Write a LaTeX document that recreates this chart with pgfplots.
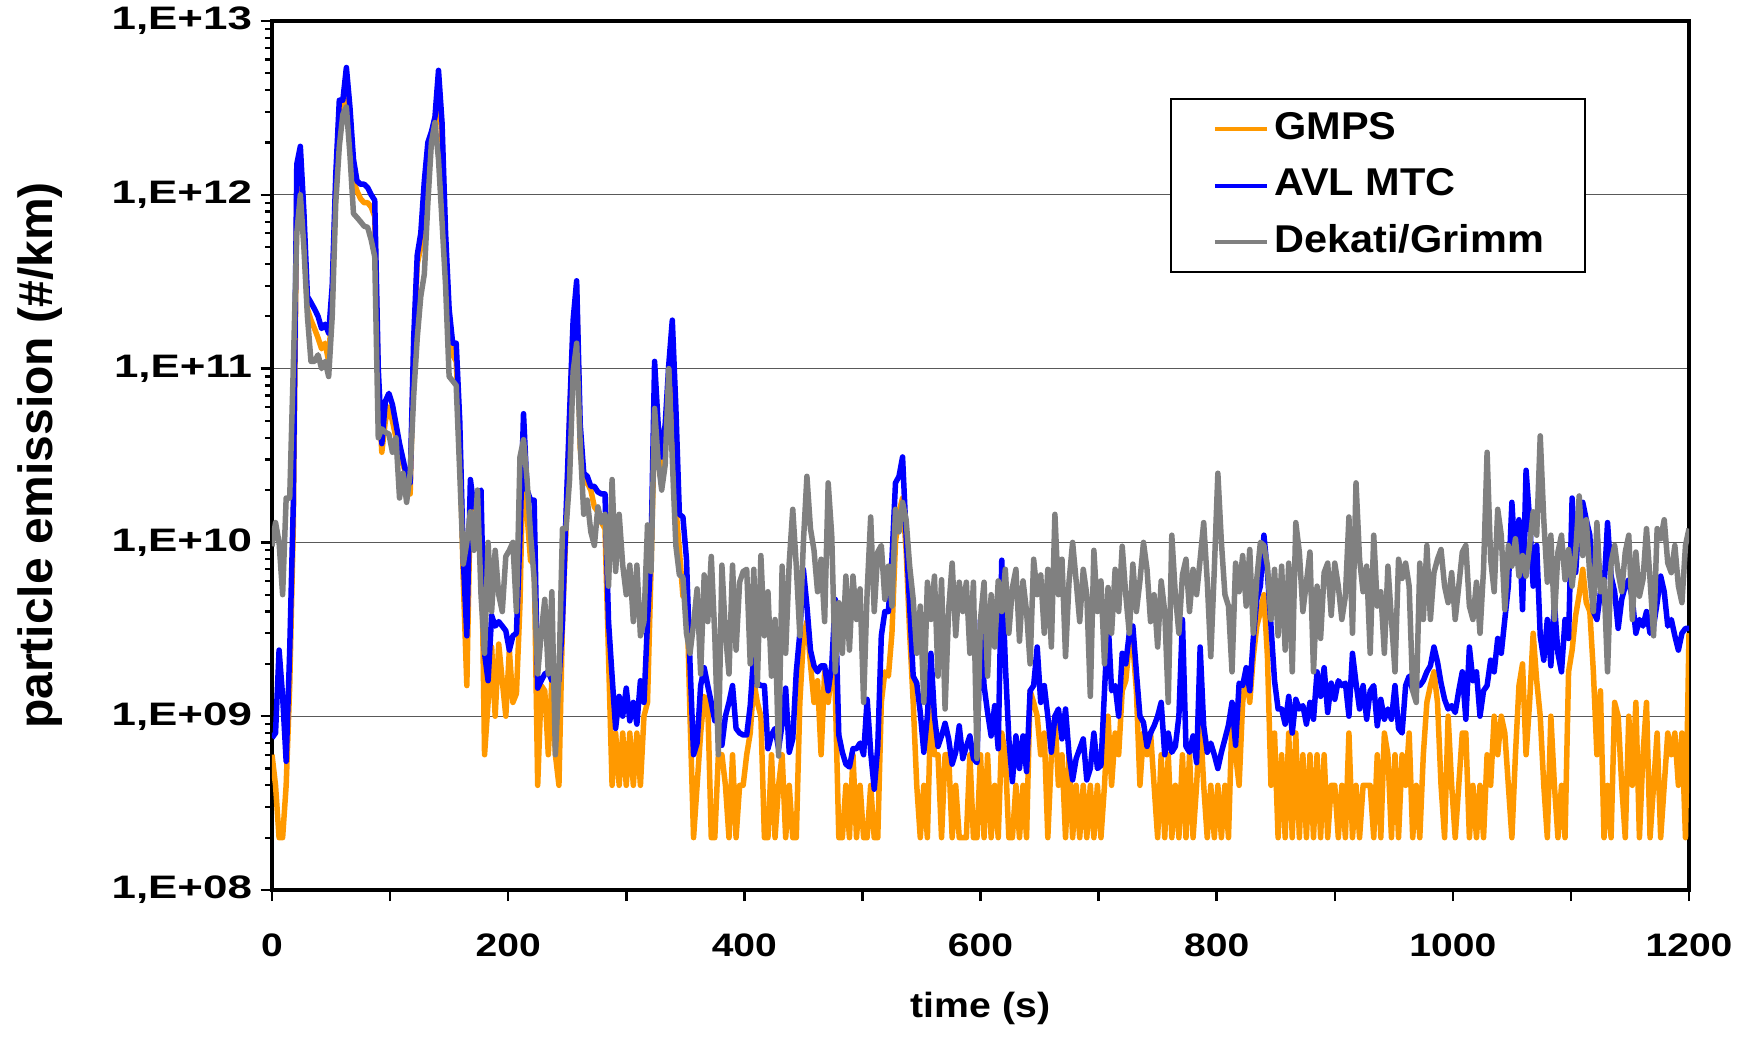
\documentclass[border=0pt]{standalone}
\usepackage{fontspec}
\setmainfont{Liberation Sans}
\newfontfamily\ytf{Liberation Sans}[FakeStretch=1.35]
\newfontfamily\xtf{Liberation Sans}[FakeStretch=1.2]
\newfontfamily\lgf{Liberation Sans}[FakeStretch=1.07]
\newfontfamily\xlf{Liberation Sans}[FakeStretch=1.12]
\usepackage{pgfplots}
\usepackage{pgfplotstable}
\pgfplotsset{compat=1.18}
\definecolor{gmps}{RGB}{255,153,0}
\definecolor{avl}{RGB}{0,0,255}
\definecolor{dek}{RGB}{128,128,128}
\pgfplotstableread{
t g a d
0 6e8 7.5e8 9.5e9
3 4e8 8e8 1.3e10
6 2e8 2.4e9 1e10
9 2e8 1.3e9 5e9
12 4e8 5.5e8 1.8e10
15 1.5e9 2.4e9 1.8e10
18 1.2e10 1.6e10 1e11
21 1e12 1.5e12 6e11
24 1.3e12 1.9e12 1e12
27 6e11 8e11 5e11
30 2.2e11 2.6e11 2e11
33 1.9e11 2.4e11 1.1e11
36 1.7e11 2.2e11 1.1e11
39 1.5e11 2e11 1.2e11
42 1.3e11 1.7e11 1e11
45 1.4e11 1.8e11 1.1e11
48 1.1e11 1.6e11 9e10
51 2.5e11 3e11 2e11
54 1.1e12 1.3e12 9e11
57 3e12 3.5e12 1.9e12
60 3.2e12 3.5e12 2.9e12
63 4.5e12 5.4e12 3.2e12
66 2.8e12 3.2e12 1.7e12
69 1.2e12 1.6e12 7.8e11
72 1.05e12 1.2e12 7.4e11
75 9.5e11 1.15e12 7e11
78 9e11 1.15e12 6.6e11
81 9e11 1.1e12 6.5e11
84 8.5e11 1e12 5.5e11
87 7.5e11 9.3e11 4.4e11
90 8e10 1e11 4e10
93 3.3e10 3.7e10 4.5e10
96 5e10 6.5e10 4.3e10
99 6e10 7.2e10 4.2e10
102 5e10 6.2e10 3.3e10
105 4e10 4.8e10 4e10
108 3e10 3.7e10 1.8e10
111 2.8e10 3e10 2.5e10
114 2.4e10 2.4e10 1.7e10
117 1.9e10 2.2e10 2.5e10
120 1.2e11 1.5e11 7e10
123 4e11 4.5e11 1.5e11
126 5e11 6e11 2.6e11
129 1e12 1.2e12 3.5e11
132 1.7e12 2e12 9e11
135 2.1e12 2.3e12 2e12
138 2.5e12 2.8e12 2.6e12
141 4.5e12 5.2e12 1.6e12
144 2e12 2.6e12 7e11
147 5e11 6e11 3e11
150 1.8e11 2.2e11 9e10
153 1.2e11 1.4e11 8.5e10
156 1.1e11 1.4e11 8e10
159 4e10 5e10 2.5e10
162 6e9 8e9 7.5e9
165 1.5e9 2.9e9 1e10
168 1.8e10 2.3e10 1.5e10
171 1.2e10 1.6e10 9e9
174 1.6e10 1.9e10 2e10
177 1.6e10 2e10 5e9
180 6e8 2.3e9 2.3e9
183 1.2e9 1.6e9 1e10
186 2.5e9 3.8e9 4e9
189 1e9 3.3e9 9e9
192 2.6e9 3.5e9 5e9
195 1.6e9 3.3e9 4e9
198 1e9 3.1e9 8.3e9
201 2.4e9 2.4e9 9e9
204 1.2e9 2.9e9 1e10
207 1.35e9 3e9 4e9
210 4.4e9 1.1e10 3.1e10
213 4e10 5.5e10 3.9e10
216 1.45e10 2e10 2.3e10
219 7.8e9 1.75e10 1.1e10
222 8e9 1.75e10 6.2e9
225 4e8 1.45e9 1.75e9
228 1.5e9 1.6e9 3e9
231 1.4e9 1.75e9 4.7e9
234 6e8 1.8e9 1.75e9
237 1.6e9 1.6e9 5.2e9
240 6e8 1.6e9 6e8
243 4e8 1.6e9 1.7e9
246 3.5e9 3.5e9 1.2e10
249 1.2e10 1.45e10 1.2e10
252 5e10 5.5e10 2.3e10
255 1.6e11 1.9e11 9.6e10
258 2.8e11 3.2e11 1.4e11
261 3.5e10 4.8e10 3.7e10
264 2.2e10 2.5e10 1.45e10
267 2.2e10 2.4e10 1.75e10
270 2e10 2.1e10 1.15e10
273 1.6e10 2.1e10 9.6e9
276 1.5e10 1.95e10 1.6e10
279 1.3e10 1.9e10 1.3e10
282 1.2e10 1.9e10 1.45e10
285 2.2e9 3.5e9 5.6e9
288 4e8 1.7e9 2.3e10
291 8e8 8.5e8 6.8e9
294 4e8 1.3e9 1.45e10
297 8e8 1e9 7.4e9
300 4e8 1.45e9 5e9
303 8e8 9.4e8 7.4e9
306 4e8 1.2e9 3.5e9
309 8e8 9e8 7.4e9
312 4e8 1.6e9 2.9e9
315 1e9 1.2e9 3.5e9
318 1.2e9 3.5e9 1.26e10
321 7e9 9e9 6.8e9
324 5e10 1.1e11 5.9e10
327 3.7e10 4.8e10 2.95e10
330 2.5e10 3.1e10 2e10
333 3.5e10 4.8e10 2.8e10
336 8e10 1.05e11 1e11
339 1.2e11 1.9e11 3e10
342 1.6e10 6e10 9.6e9
345 9e9 1.45e10 6.5e9
348 4.9e9 1.4e10 6.3e9
351 6e9 8e9 3e9
354 1e9 2e9 2.3e9
357 2e8 6e8 3.4e9
360 4e8 7e8 5.4e9
363 8e8 1.5e9 1.75e9
366 1.3e9 1.9e9 6.5e9
369 1.2e9 1.5e9 3.5e9
372 2e8 1.2e9 8.3e9
375 2e8 9.4e8 2.9e9
378 6e8 9.4e8 6e8
381 6e8 6.8e8 7.4e9
384 4e8 1e9 3e9
387 2e8 1.2e9 1.75e9
390 6e8 1.5e9 7.4e9
393 2e8 8.5e8 2.4e9
396 4e8 8e8 5.9e9
399 4e8 7.8e8 6.8e9
402 6e8 7.8e8 7e9
405 8e8 1.15e9 2e9
408 1.6e9 2.3e9 7e9
411 1.2e9 1.55e9 1.5e9
414 1e9 1.5e9 8.4e9
417 2e8 1.5e9 2.9e9
420 2e8 6.5e8 5.2e9
423 6e8 7.8e8 1.7e9
426 2e8 8.5e8 3.6e9
429 4e8 6.5e8 5.9e8
432 6e8 9e8 7.3e9
435 2e8 1.45e9 2.3e9
438 4e8 6.2e8 7.6e9
441 2e8 7.4e8 1.55e10
444 2e8 1.8e9 7.3e9
447 1.2e9 3e9 2.9e9
450 2.8e9 7e9 1e10
453 3.5e9 4.3e9 2.4e10
456 2e9 2.4e9 1.2e10
459 1.2e9 1.95e9 9e9
462 1.6e9 1.8e9 5.2e9
465 6e8 1.95e9 8e9
468 1.8e9 1.95e9 3.5e9
471 1.2e9 1.4e9 2.2e10
474 1.8e9 1.95e9 1.1e10
477 1.4e9 4.7e9 1.8e9
480 2e8 7.8e8 4.5e9
483 2e8 6.2e8 2.3e9
486 4e8 5.3e8 6.4e9
489 2e8 5.1e8 2.4e9
492 6e8 6.5e8 6.4e9
495 2e8 6.5e8 3.6e9
498 4e8 7e8 5.4e9
501 2e8 6e8 1.2e9
504 2e8 1.25e9 5.2e9
507 4e8 6.2e8 1.4e10
510 2e8 3.8e8 4e9
513 2e8 6.7e8 8.8e9
516 1.2e9 2.9e9 9.6e9
519 1.8e9 4e9 4.7e9
522 1.7e9 4e9 7.3e9
525 3e9 8e9 4.3e9
528 1e10 2.2e10 1.55e10
531 1.5e10 2.4e10 1.15e10
534 1.8e10 3.1e10 1.7e10
537 9e9 1.1e10 1.35e10
540 3e9 4.3e9 7.3e9
543 1.2e9 1.7e9 4.7e9
546 4e8 1.55e9 2.3e9
549 2e8 1.05e9 4.3e9
552 4e8 6.2e8 1.2e9
555 2e8 1e9 5.9e9
558 1.2e9 2.3e9 3.6e9
561 6e8 1e9 6.4e9
564 6e8 6.7e8 1.7e9
567 2e8 7.7e8 6.1e9
570 6e8 9.1e8 1.1e9
573 6e8 7.4e8 4.1e9
576 2e8 5.3e8 7.6e9
579 4e8 6.2e8 2.9e9
582 2e8 8.8e8 5.9e9
585 2e8 5.7e8 4e9
588 2e8 6.7e8 5.9e9
591 6e8 7.7e8 2.3e9
594 2e8 5.7e8 5.9e9
597 2e8 5.4e8 5.7e8
600 6e8 3.6e9 3.6e9
603 2e8 1.5e9 5.9e9
606 6e8 1.05e9 1.7e9
609 2e8 7.7e8 5e9
612 4e8 1.15e9 2.5e9
615 2e8 6.5e8 6e9
618 8e8 7.9e9 4e9
621 6e8 2e9 7e9
624 2e8 7.4e8 3e9
627 2e8 4.2e8 5.5e9
630 4e8 7.7e8 7e9
633 2e8 5e8 2.7e9
636 4e8 7.7e8 6e9
639 2e8 4.8e8 4e9
642 1.4e9 1.4e9 2e9
645 1.2e9 1.5e9 8e9
648 1e9 2.5e9 5e9
651 6e8 1.2e9 6.5e9
654 8e8 1.5e9 3e9
657 2e8 1e9 7e9
660 6e8 6.2e8 2.5e9
663 1e9 1e9 1.45e10
666 4e8 1.1e9 5e9
669 6e8 7.4e8 8e9
672 2e8 1.1e9 2.2e9
675 6e8 6e8 6e9
678 2e8 4.3e8 1e10
681 4e8 5.7e8 6e9
684 2e8 6.5e8 3.5e9
687 4e8 7.4e8 7e9
690 2e8 4.3e8 5e9
693 4e8 5e8 1.3e9
696 2e8 8e8 9e9
699 4e8 5e8 4e9
702 2e8 5.2e8 6e9
705 4e8 1.4e9 2e9
708 1e9 3.6e9 5.5e9
711 4e8 1.4e9 3e9
714 8e8 1.5e9 7e9
717 6e8 1e9 4e9
720 1.4e9 2.3e9 9.5e9
723 1.6e9 2e9 5e9
726 2.6e9 3e9 3e9
729 2.6e9 3.3e9 7.5e9
732 1.4e9 1.8e9 4e9
735 4e8 1e9 6e9
738 8e8 9.2e8 1e10
741 6e8 6.7e8 7e9
744 8e8 8e8 3.5e9
747 4e8 8.8e8 5e9
750 2e8 1e9 2.5e9
753 6e8 1.2e9 6e9
756 2e8 6e8 4e9
759 6e8 8e8 1.2e9
762 2e8 6.2e8 1.1e10
765 4e8 6.7e8 5e9
768 2e8 1e9 3e9
771 6e8 3.6e9 6.5e9
774 2e8 6.7e8 8e9
777 6e8 6.2e8 4e9
780 2e8 7.7e8 7e9
783 4e8 5.4e8 5e9
786 1e9 2.5e9 8e9
789 4e8 8.8e8 1.3e10
792 2e8 6.2e8 6e9
795 4e8 7e8 2.2e9
798 2e8 6e8 7e9
801 4e8 5e8 2.5e10
804 2e8 6.2e8 1e10
807 4e8 7.4e8 5e9
810 2e8 8.9e8 4.3e9
813 1e9 1.2e9 1.8e9
816 6e8 6.8e8 7.6e9
819 4e8 1.55e9 5.2e9
822 1.2e9 1.5e9 8.4e9
825 1.8e9 1.9e9 4.3e9
828 1.2e9 1.4e9 9.1e9
831 2.2e9 2.8e9 3e9
834 3.3e9 4.7e9 6.2e9
837 4e9 5.6e9 1e10
840 5e9 1.1e10 9.6e9
843 2.2e9 6.7e9 7.3e9
846 4e8 3.3e9 3.6e9
849 8e8 1.6e9 7e9
852 2e8 1.1e9 2.9e9
855 6e8 1.1e9 7.3e9
858 2e8 9e8 2.4e9
861 8e8 1.3e9 7.6e9
864 2e8 8e8 1.8e9
867 8e8 1.25e9 1.3e10
870 2e8 1.1e9 8.8e9
873 6e8 1.15e9 4e9
876 2e8 9e8 5.9e9
879 6e8 1.2e9 8.8e9
882 2e8 9.6e8 1.8e9
885 6e8 1.8e9 5.6e9
888 2e8 1.3e9 2.8e9
891 6e8 1.9e9 6.7e9
894 2e8 1.05e9 7.6e9
897 4e8 1.55e9 3.8e9
900 4e8 1.25e9 7.6e9
903 2e8 1.6e9 5.6e9
906 4e8 1.5e9 3.6e9
909 2e8 1.55e9 4.9e9
912 8e8 1e9 1.4e10
915 2e8 2.3e9 3e9
918 4e8 1.55e9 2.2e10
921 2e8 1.1e9 8e9
924 4e8 1.5e9 5.2e9
927 4e8 9.6e8 7.3e9
930 4e8 1.4e9 2.3e9
933 2e8 1.5e9 1.1e10
936 6e8 8.8e8 4.3e9
939 2e8 1.25e9 5.2e9
942 8e8 9.6e8 2.3e9
945 6e8 1.1e9 7.3e9
948 2e8 9.6e8 3.6e9
951 6e8 1.5e9 1.8e9
954 2e8 8.5e8 8e9
957 6e8 8e8 6.2e9
960 4e8 1.5e9 7.6e9
963 8e8 1.7e9 5.6e9
966 2e8 1.4e9 1.4e9
969 4e8 1.5e9 1.2e9
972 2e8 1.5e9 7.6e9
975 6e8 1.6e9 3.6e9
978 1.2e9 1.8e9 9.6e9
981 1.5e9 1.95e9 3.6e9
984 1.8e9 2.5e9 6.7e9
987 1.2e9 2.05e9 8e9
990 4e8 1.55e9 9.1e9
993 2e8 1.25e9 5.6e9
996 1e9 1.1e9 4.5e9
999 4e8 1.15e9 6.7e9
1002 2e8 1.05e9 3.6e9
1005 4e8 1.4e9 5.6e9
1008 8e8 1.8e9 8.8e9
1011 8e8 9.6e8 9.6e9
1014 2e8 2.5e9 4.3e9
1017 4e8 1.6e9 3.6e9
1020 2e8 1.8e9 5.9e9
1023 4e8 1e9 3e9
1026 2e8 1.4e9 7e9
1029 6e8 1.5e9 3.3e10
1032 4e8 2.1e9 8e9
1035 1e9 1.8e9 5.2e9
1038 6e8 2.8e9 1.55e10
1041 1e9 2.3e9 1.1e10
1044 8e8 3.6e9 4.1e9
1047 4e8 5.6e9 9.6e9
1050 2e8 1.7e10 7.3e9
1053 6e8 7.6e9 1.05e10
1056 1.5e9 1.35e10 6.4e9
1059 2e9 4.1e9 8.4e9
1062 6e8 2.6e10 6.4e9
1065 1.2e9 1.35e10 9.6e9
1068 3e9 5.6e9 1.5e10
1071 1.6e9 9.6e9 1.1e10
1074 1e9 2.9e9 4.1e10
1077 4e8 2.1e9 1.35e10
1080 2e8 3.6e9 5.9e9
1083 1e9 1.95e9 1.1e10
1086 4e8 4.5e9 3.6e9
1089 2e8 2.3e9 8.8e9
1092 4e8 1.8e9 1.1e10
1095 2e8 3.6e9 6.1e9
1098 1.8e9 2.8e9 9.1e9
1101 2.4e9 1.8e10 5.6e9
1104 3.8e9 6.7e9 8.8e9
1107 5e9 1.4e10 1.85e10
1110 7e9 1.7e10 8.4e9
1113 4.5e9 1.35e10 1.35e10
1116 4e9 1.1e10 6.4e9
1119 1.8e9 4e9 4e9
1122 6e8 3.6e9 1.3e10
1125 1.4e9 5.2e9 5.2e9
1128 2e8 5.4e9 6.1e9
1131 4e8 1.3e10 1.8e9
1134 2e8 6.4e9 7.6e9
1137 1.2e9 5.2e9 9.6e9
1140 1e9 3.2e9 6.7e9
1143 4e8 4.7e9 5.2e9
1146 2e8 5.6e9 8.8e9
1149 1e9 6.1e9 1.1e10
1152 4e8 4.7e9 3.6e9
1155 1.2e9 3e9 8.8e9
1158 2e8 3.6e9 4.9e9
1161 6e8 3.3e9 6.1e9
1164 1.2e9 4e9 1.2e10
1167 2e8 3e9 6.1e9
1170 4e8 3.3e9 2.9e9
1173 8e8 4.5e9 1.2e10
1176 2e8 6.4e9 1.05e10
1179 4e8 5.2e9 1.35e10
1182 8e8 3.3e9 7.6e9
1185 6e8 3.6e9 6.7e9
1188 8e8 2.9e9 9.6e9
1191 4e8 2.4e9 5.6e9
1194 8e8 3e9 4.5e9
1197 2e8 3.2e9 9.6e9
1200 3e9 3.2e9 1.2e10
}\datatable
\begin{document}
\begin{tikzpicture}
\begin{axis}[
  scale only axis,
  width=566.8pt, height=347.6pt,
  xmin=0, xmax=1200,
  ymode=log, ymin=1e8, ymax=1e13,
  xtick={0,100,...,1200},
  xticklabels={0,,200,,400,,600,,800,,1000,,1200},
  ytick={1e8,1e9,1e10,1e11,1e12,1e13},
  yticklabels={{1,E+08},{1,E+09},{1,E+10},{1,E+11},{1,E+12},{1,E+13}},
  tick align=outside,
  tick pos=left,
  major tick length=4.5pt,
  minor tick length=2.7pt,
  major tick style={line width=1pt, black},
  minor tick style={line width=0.9pt, black},
  axis line style={line width=1.5pt, black},
  ymajorgrids,
  major grid style={line width=0.5pt, black!65},
  xticklabel style={font=\xtf\bfseries\fontsize{13}{15}\selectfont, yshift=-9.4pt},
  yticklabel style={font=\ytf\bfseries\fontsize{13}{15}\selectfont},
  xlabel={time (s)},
  ylabel={particle emission (\#/km)},
  xlabel style={font=\xlf\bfseries\fontsize{14}{16}\selectfont, at={(axis description cs:0.5,0)}, anchor=center, yshift=-47.2pt},
  ylabel style={font=\bfseries\fontsize{19.2}{22}\selectfont, at={(axis description cs:-0.1637,0.5)}, anchor=center},
  legend cell align=left,
  legend style={at={(rel axis cs:0.927,0.911)}, anchor=north east,
    draw=black, line width=0.8pt, fill=white,
    font=\lgf\bfseries\fontsize{15.5}{18}\selectfont,
    inner xsep=14.2pt, inner ysep=3pt, row sep=4.6pt,
    nodes={text height=11pt, text depth=3pt, inner sep=2pt}},
  legend image code/.code={\path (-2.1pt,0pt); \draw[#1, line width=1.6pt] (0pt,0pt) -- (21pt,0pt);},
  every axis plot/.append style={line width=2.2pt, line join=round, no markers},
]
\addplot[gmps] table[x=t, y=g] {\datatable};
\addlegendentry{GMPS}
\addplot[avl] table[x=t, y=a] {\datatable};
\addlegendentry{AVL MTC}
\addplot[dek] table[x=t, y=d] {\datatable};
\addlegendentry{Dekati/Grimm}
\coordinate (SW) at (rel axis cs:0,0);
\coordinate (NE) at (rel axis cs:1,1);
\end{axis}
\pgfresetboundingbox
\path ([shift={(-108.8pt,-58.4pt)}]SW) rectangle ([shift={(21.6pt,8.4pt)}]NE);
\end{tikzpicture}
\end{document}
